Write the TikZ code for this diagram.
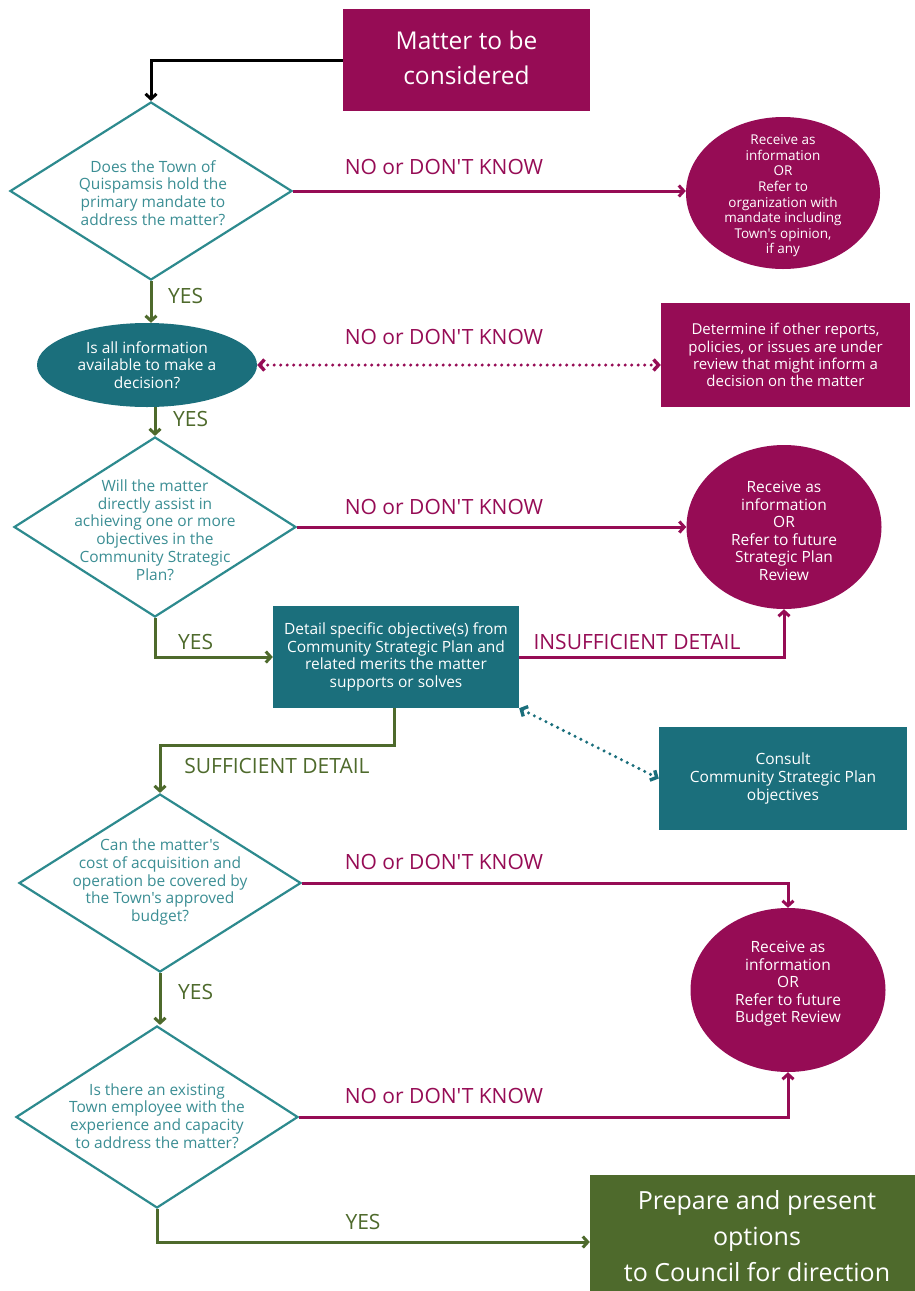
\documentclass[tikz,border=0pt]{standalone}
\usepackage{fontspec}
\setmainfont{Open Sans}[Ligatures=TeXOff]
\usetikzlibrary{shapes.geometric,arrows.meta,calc}
\definecolor{mag}{HTML}{960C55}
\definecolor{tealf}{HTML}{1B6F7C}
\definecolor{dgreen}{HTML}{4E6A2C}
\definecolor{dstroke}{HTML}{2D8A8E}
\definecolor{dtext}{HTML}{3B8E94}
\newcommand{\fs}[2]{\fontsize{#1}{#2}\selectfont}
\tikzset{
  decision/.style={diamond, draw=dstroke, line width=2.2pt, inner sep=0pt, minimum width=282pt, minimum height=178pt},
  dtxt/.style={text=dtext, align=center, inner sep=0pt, font=\fs{15.5}{17.7}},
  magbox/.style={rectangle, fill=mag, inner sep=0pt},
  tealbox/.style={rectangle, fill=tealf, inner sep=0pt},
  magcirc/.style={ellipse, fill=mag, inner sep=0pt, minimum width=195pt, minimum height=164pt},
  wtxt/.style={text=white, align=center, inner sep=0pt},
  magline/.style={draw=mag, line width=3pt, -{Straight Barb[length=5pt,width=11pt]}},
  greenline/.style={draw=dgreen, line width=3pt, -{Straight Barb[length=5pt,width=11pt]}},
  blackline/.style={draw=black, line width=3pt, -{Straight Barb[length=5pt,width=11pt]}},
  magdots/.style={draw=mag, line width=3.4pt, line cap=round, dash pattern=on 0pt off 6.5pt, {Straight Barb[length=5pt,width=11pt,line cap=butt]}-{Straight Barb[length=5pt,width=11pt,line cap=butt]}},
  tealdots/.style={draw=tealf, line width=3.4pt, line cap=round, dash pattern=on 0pt off 6.5pt, {Straight Barb[length=5pt,width=11pt,line cap=butt]}-{Straight Barb[length=5pt,width=11pt,line cap=butt]}},
  maglab/.style={text=mag, inner sep=0pt, font=\fs{21}{24}},
  greenlab/.style={text=dgreen, inner sep=0pt, font=\fs{21}{24}},
}
\begin{document}
\begin{tikzpicture}[x=1pt,y=-1pt]
\useasboundingbox (0,0) rectangle (915,1291);
\clip (0,0) rectangle (915,1291);
\fill[white] (0,0) rectangle (915,1291);

% start box
\node[magbox, minimum width=247pt, minimum height=102pt] (matter) at (466.5,60) {};
\node[wtxt, font=\fs{24.5}{35}] (mattert) at (466.5,58) {Matter to be\\considered};

% decision 1
\node[decision] (d1) at (151,191) {};
\node[dtxt] (d1t) at (153,193) {Does the Town of\\Quispamsis hold the\\primary mandate to\\address the matter?};

% circle 1
\node[magcirc, minimum width=194pt, minimum height=152pt] (c1) at (783,193) {};
\node[wtxt, font=\fs{13.5}{15.6}] (c1t) at (783,196) {Receive as\\information\\OR\\Refer to\\organization with\\mandate including\\Town's opinion,\\if any};

% ellipse
\node[ellipse, fill=tealf, inner sep=0pt, minimum width=220pt, minimum height=84pt] (e1) at (147,365) {};
\node[wtxt, font=\fs{15.5}{17.5}] (e1t) at (e1) {Is all information\\available to make a\\decision?};

% rect 1
\node[magbox, minimum width=249pt, minimum height=104pt] (r1) at (785.5,355) {};
\node[wtxt, font=\fs{15}{17.3}] (r1t) at (r1) {Determine if other reports,\\policies, or issues are under\\review that might inform a\\decision on the matter};

% decision 3
\node[decision, minimum height=180pt] (d3) at (155,527) {};
\node[dtxt] (d3t) at (155,530) {Will the matter\\directly assist in\\achieving one or more\\objectives in the\\Community Strategic\\Plan?};

% circle 2
\node[magcirc] (c2) at (784,527) {};
\node[wtxt, font=\fs{15.5}{17.5}] (c2t) at (784,531) {Receive as\\information\\OR\\Refer to future\\Strategic Plan\\Review};

% box 1
\node[tealbox, minimum width=246pt, minimum height=102pt] (b1) at (396,657) {};
\node[wtxt, font=\fs{15.5}{17.7}] (b1t) at (b1) {Detail specific objective(s) from\\Community Strategic Plan and\\related merits the matter\\supports or solves};

% box 2
\node[tealbox, minimum width=248pt, minimum height=103pt] (b2) at (783,778.5) {};
\node[wtxt, font=\fs{15.5}{17.7}] (b2t) at (b2) {Consult\\Community Strategic Plan\\objectives};

% decision 4
\node[decision] (d4) at (160,883) {};
\node[dtxt] (d4t) at (160,882) {Can the matter's\\cost of acquisition and\\operation be covered by\\the Town's approved\\budget?};

% circle 3
\node[magcirc] (c3) at (788,990) {};
\node[wtxt, font=\fs{15.5}{17.5}] (c3t) at (788,984) {Receive as\\information\\OR\\Refer to future\\Budget Review};

% decision 5
\node[decision, minimum height=182pt] (d5) at (157,1117) {};
\node[dtxt] (d5t) at (157,1116) {Is there an existing\\Town employee with the\\experience and capacity\\to address the matter?};

% final box
\node[rectangle, fill=dgreen, inner sep=0pt, minimum width=325pt, minimum height=134pt] (b3) at (752.5,1242) {};
\node[wtxt, font=\fs{25}{36}] (b3t) at (757,1236) {Prepare and present\\options\\to Council for direction};

% connectors
\draw[blackline] (matter.west) -| (d1.north);
\draw[magline] (d1.east) -- (d1.east -| c1.west);
\draw[greenline] (d1.south) -- (d1.south |- e1.north);
\draw[magdots] (e1.east) -- (e1.east -| r1.west);
\draw[greenline] (e1.south -| d3.north) -- (d3.north);
\draw[magline] (d3.east) -- (d3.east -| c2.west);
\draw[greenline] (d3.south) |- (b1.west);
\draw[magline] (b1.east) -| (c2.south);
\draw[greenline] (b1.south -| 394,0) -- ++(0,37) -| (d4.north);
\draw[tealdots] (b1.south east) -- (b2.west);
\draw[magline] (d4.east) -| (c3.north);
\draw[greenline] (d4.south) -- (d4.south |- d5.north);
\draw[magline] (d5.east) -| (c3.south);
\draw[greenline] (d5.south) |- (b3.west);

% labels
\node[maglab] (l1) at (444,167) {NO or DON'T KNOW};
\node[greenlab, anchor=west] (l2) at (168,296) {YES};
\node[maglab] (l3) at (444,337) {NO or DON'T KNOW};
\node[greenlab, anchor=west] (l4) at (173,419) {YES};
\node[maglab] (l5) at (444,507) {NO or DON'T KNOW};
\node[greenlab, anchor=west] (l6) at (178,642) {YES};
\node[maglab] (l7) at (637,642) {INSUFFICIENT DETAIL};
\node[greenlab] (l8) at (277,766) {SUFFICIENT DETAIL};
\node[maglab] (l9) at (444,862) {NO or DON'T KNOW};
\node[greenlab, anchor=west] (l10) at (178,992) {YES};
\node[maglab] (l11) at (444,1096) {NO or DON'T KNOW};
\node[greenlab] (l12) at (363,1222) {YES};
\end{tikzpicture}
\end{document}
